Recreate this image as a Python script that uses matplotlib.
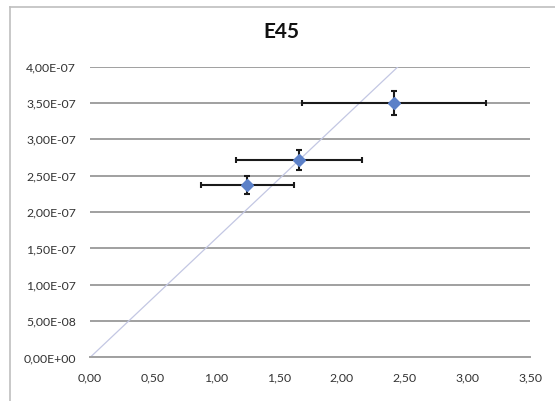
import matplotlib
matplotlib.use("Agg")
import matplotlib.pyplot as plt
from matplotlib.lines import Line2D
from matplotlib.ticker import FuncFormatter

title = "E45"
x_vals = [1.25, 1.66, 2.42]
y_vals = [2.37e-7, 2.72e-7, 3.50e-7]
x_err = [0.37, 0.50, 0.73]
y_err = [0.12e-7, 0.14e-7, 0.17e-7]
ref_x = [0.0, 2.45]
ref_y = [0.0, 4.0e-7]
x_ticks = [0.0, 0.5, 1.0, 1.5, 2.0, 2.5, 3.0, 3.5]
y_ticks = [0.0, 0.5e-7, 1.0e-7, 1.5e-7, 2.0e-7, 2.5e-7, 3.0e-7, 3.5e-7, 4.0e-7]

plt.rcParams['font.family'] = ['Lato', 'DejaVu Sans']

fig = plt.figure(figsize=(5.55, 4.01), dpi=100)
ax = fig.add_axes([0.1622, 0.1085, 0.955 - 0.1622, 0.8337 - 0.1085])

ax.set_xlim(x_ticks[0], x_ticks[-1])
ax.set_ylim(y_ticks[0], y_ticks[-1])
ax.set_xticks(x_ticks)
ax.set_yticks(y_ticks)
ax.xaxis.set_major_formatter(FuncFormatter(lambda v, p: f"{v:.2f}".replace('.', ',')))
ax.yaxis.set_major_formatter(FuncFormatter(lambda v, p: f"{v:.2E}".replace('.', ',')))

ax.grid(axis='y', color='#a0a0a0', linewidth=1.4)
ax.set_axisbelow(True)
for s in ['top', 'right', 'left']:
    ax.spines[s].set_visible(False)
ax.spines['bottom'].set_color('#a0a0a0')
ax.spines['bottom'].set_linewidth(1.4)
ax.tick_params(length=0, labelsize=8.8, colors='#333333')
ax.tick_params(axis='x', pad=11)
ax.tick_params(axis='y', pad=10)

ax.plot(ref_x, ref_y, color='#c3c7e3', linewidth=0.9, zorder=2)
ax.errorbar(x_vals, y_vals, xerr=x_err, yerr=y_err, fmt='D', color='#5b80c8',
            markersize=6, ecolor='#1a1a1a', elinewidth=1.5, capsize=2.5, capthick=1.5,
            zorder=3)

fig.text(281.7 / 555, 1 - 32 / 401, title, ha='center', va='center',
         fontsize=15, fontweight='bold', color='#111111')

# chart frame
fig.add_artist(Line2D([9.5 / 555, 1.0], [1 - 7 / 401, 1 - 7 / 401],
                      transform=fig.transFigure, color='#bfbfbf', linewidth=1.2))
fig.add_artist(Line2D([9.5 / 555, 9.5 / 555], [0.0, 1 - 7 / 401],
                      transform=fig.transFigure, color='#bfbfbf', linewidth=1.2))

fig.savefig('out.png', dpi=100)
